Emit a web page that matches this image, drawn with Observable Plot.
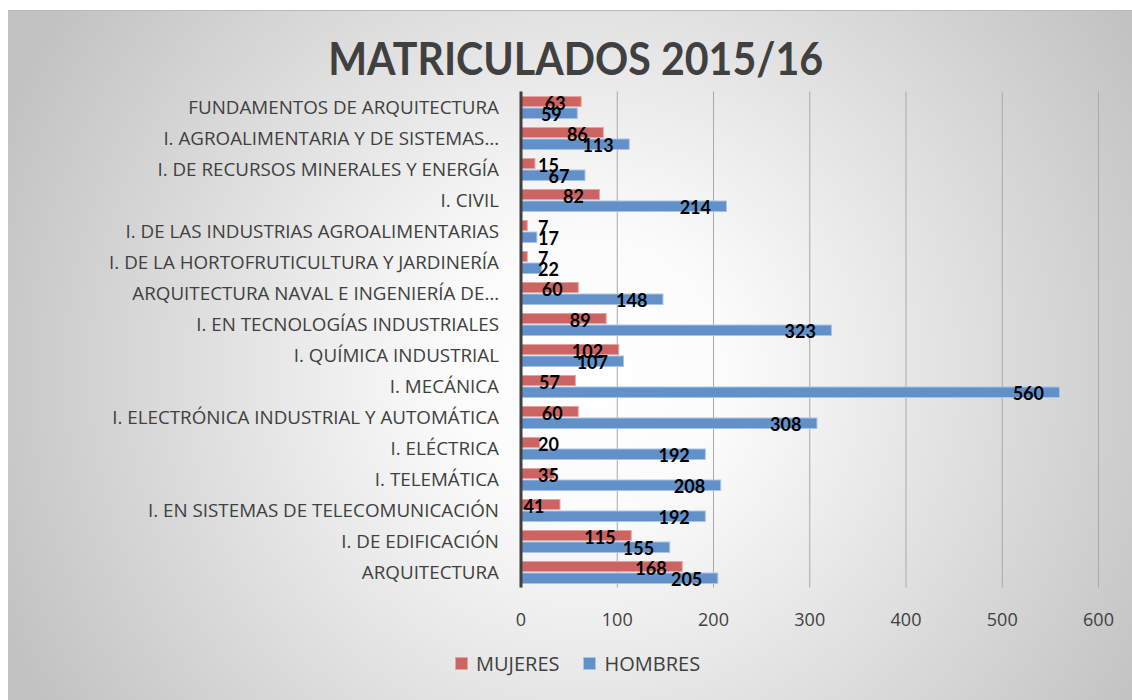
<!DOCTYPE html>
<html><head><meta charset="utf-8">
<script src="https://cdn.jsdelivr.net/npm/d3@7"></script>
<script src="https://cdn.jsdelivr.net/npm/@observablehq/plot@0.6"></script>
<style>
html,body{margin:0;padding:0;}
body{background:#fff;width:1132px;height:700px;overflow:hidden;position:relative;font-family:"Open Sans",Lato,sans-serif;}
#panel{position:absolute;left:8px;top:10px;width:1124px;height:690px;
  background:radial-gradient(circle 640px at 582px 360px,#ffffff 0%,#fbfbfb 22%,#c2c2c2 100%);
  border-top:1px solid #bababa;box-sizing:border-box;}
#title{position:absolute;left:0;width:1151px;top:36px;text-align:center;line-height:44px;height:44px;font-family:Lato,"Open Sans",sans-serif;}
#title span{display:inline-block;font-weight:bold;font-size:45px;color:#404040;transform-origin:center;white-space:nowrap;}
#chart{position:absolute;left:0;top:80px;}
#legend{position:absolute;top:650px;left:455px;font-size:20px;color:#404040;display:flex;align-items:center;white-space:nowrap;}
#legend .sw{display:inline-block;width:11px;height:11px;margin-right:8px;}
#legend .item{display:flex;align-items:center;margin-right:24px;}
</style>
</head><body>
<div id="panel"></div>
<div id="title"><span id="titletext">MATRICULADOS 2015/16</span></div>
<div id="chart"></div>
<div id="legend"></div>
<script>
const categories = [
  "FUNDAMENTOS DE ARQUITECTURA",
  "I. AGROALIMENTARIA Y DE SISTEMAS…",
  "I. DE RECURSOS MINERALES Y ENERGÍA",
  "I. CIVIL",
  "I. DE LAS INDUSTRIAS AGROALIMENTARIAS",
  "I. DE LA HORTOFRUTICULTURA Y JARDINERÍA",
  "ARQUITECTURA NAVAL E INGENIERÍA DE…",
  "I. EN TECNOLOGÍAS INDUSTRIALES",
  "I. QUÍMICA INDUSTRIAL",
  "I. MECÁNICA",
  "I. ELECTRÓNICA INDUSTRIAL Y AUTOMÁTICA",
  "I. ELÉCTRICA",
  "I. TELEMÁTICA",
  "I. EN SISTEMAS DE TELECOMUNICACIÓN",
  "I. DE EDIFICACIÓN",
  "ARQUITECTURA"
];
const mujeres = [63, 86, 15, 82, 7, 7, 60, 89, 102, 57, 60, 20, 35, 41, 115, 168];
const hombres = [59, 113, 67, 214, 17, 22, 148, 323, 107, 560, 308, 192, 208, 192, 155, 205];
const seriesNames = ["MUJERES", "HOMBRES"];
const seriesColors = ["#cb6462", "#6290c8"];
const seriesStrokes = ["#e3a3a1", "#a9c3e5"];
const xTicks = [0, 100, 200, 300, 400, 500, 600];

const rowsM = categories.map((c, i) => ({cat: c, serie: seriesNames[0], v: mujeres[i]}));
const rowsH = categories.map((c, i) => ({cat: c, serie: seriesNames[1], v: hombres[i]}));

const labelThreshold = 40;
function labelMarks(rows, dy) {
  const common = {y: "cat", text: d => String(d.v), fontWeight: "bold", fontSize: 18, fill: "#000", dy, fontFamily: "Lato, 'Open Sans', sans-serif"};
  return [
    Plot.text(rows.filter(d => d.v >= labelThreshold), {...common, x: "v", textAnchor: "end", dx: -16}),
    Plot.text(rows.filter(d => d.v < labelThreshold), {...common, x: () => 0, textAnchor: "start", dx: 17})
  ];
}

const chart = Plot.plot({
  width: 1132,
  height: 570,
  marginTop: 11.5,
  marginBottom: 62.5,
  marginLeft: 520.5,
  marginRight: 34,
  style: {fontFamily: "'Open Sans', Lato, sans-serif", background: "transparent", overflow: "visible"},
  x: {domain: [0, 600], ticks: xTicks},
  y: {domain: categories, padding: 0},
  marks: [
    Plot.gridX(xTicks, {stroke: "#a9a9a9", strokeOpacity: 1, strokeWidth: 1}),
    Plot.barX(rowsM, {x: "v", y: "cat", fill: seriesColors[0], stroke: seriesStrokes[0], strokeWidth: 1, insetTop: 4.5, insetBottom: 16.5}),
    Plot.barX(rowsH, {x: "v", y: "cat", fill: seriesColors[1], stroke: seriesStrokes[1], strokeWidth: 1, insetTop: 16, insetBottom: 4.5}),
    Plot.ruleX([0], {stroke: "#3f3f3f", strokeWidth: 3}),
    ...labelMarks(rowsM, -4),
    ...labelMarks(rowsH, 7),
    Plot.axisY({tickSize: 0, tickPadding: 22, fontSize: 18.8, fill: "#404040", label: null}),
    Plot.axisX({ticks: xTicks, tickSize: 0, tickPadding: 25, fontSize: 18, fill: "#404040", label: null})
  ]
});
document.getElementById("chart").appendChild(chart);

const legend = document.getElementById("legend");
seriesNames.forEach((name, i) => {
  const item = document.createElement("div");
  item.className = "item";
  const sw = document.createElement("span");
  sw.className = "sw";
  sw.style.background = seriesColors[i];
  sw.style.border = "1px solid " + seriesStrokes[i];
  const t = document.createElement("span");
  t.textContent = name;
  item.appendChild(sw); item.appendChild(t);
  legend.appendChild(item);
});

const tt = document.getElementById("titletext");
const w = tt.getBoundingClientRect().width;
tt.style.transform = `scaleX(${495 / w})`;
</script>
</body></html>
